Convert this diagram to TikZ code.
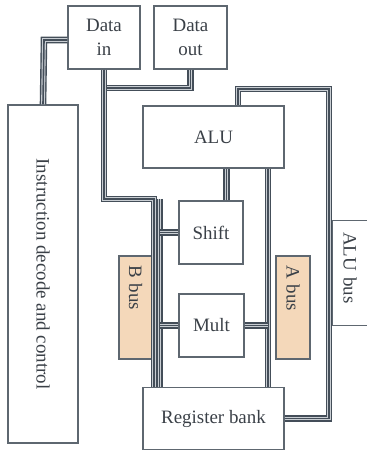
\documentclass[tikz,border=0pt]{standalone}
\usepackage{fontspec}
\setmainfont{Liberation Serif}
\usetikzlibrary{calc}
\definecolor{busdark}{HTML}{444E59}
\definecolor{buslight}{HTML}{C9CED3}
\definecolor{boxline}{HTML}{5E6770}
\definecolor{txt}{HTML}{3A4047}
\definecolor{peach}{HTML}{F4D8BA}
\tikzset{
    unit/.style={
        draw=boxline,
        line width=1.1bp,
        align=center,
        text=txt,
        inner sep=0pt,
        font=\fontsize{19}{24}\selectfont
    },
    bus/.style={
        draw=busdark,
        line width=6.6bp,
        line join=miter,
        postaction={draw=buslight, line width=3.8bp},
        postaction={draw=busdark, line width=1.6bp}
    }
}

\begin{document}
\begin{tikzpicture}[
    x=1bp,y=-1bp,
    sidebox/.style={unit, fill=peach, rotate=-90, align=left, inner xsep=9bp, text width=85bp}
]
\useasboundingbox (0,0) rectangle (366,451);

% units
\node[unit, minimum width=72bp, minimum height=63bp] (datain) at (104,37.5) {Data\\in};
\node[unit, minimum width=73bp, minimum height=63bp] (dataout) at (190.5,37.5) {Data\\out};
\node[unit, minimum width=141bp, minimum height=62bp] (alu) at (213.5,137) {ALU};
\node[unit, minimum width=64bp, minimum height=63bp] (shift) at (211,232.5) {Shift};
\node[unit, minimum width=65bp, minimum height=63bp] (mult) at (211.5,325.5) {Mult};
\node[unit, minimum width=141bp, minimum height=62bp] (regbank) at (213.5,418.5) {Register bank};
\node[unit, rotate=-90, minimum width=338bp, minimum height=70bp] (control) at (43,274) {Instruction decode and control};

% bus labels
\node[sidebox, minimum width=103bp, minimum height=33bp] (bbus) at (135.5,307.5) {B bus};
\node[sidebox, minimum width=103bp, minimum height=34bp] (abus) at (293,307.5) {A bus};
\node[sidebox, fill=none, draw=none, inner xsep=11bp, text width=82bp, minimum height=34bp] (alubus) at (350,273) {ALU bus};
\draw[boxline, line width=1.1bp] (alubus.north west) -- (alubus.south west) -- (alubus.south east) -- (alubus.north east);

% turning points
\coordinate (ctrlturn) at (44,40);
\coordinate (dinturn) at (104,88);
\coordinate (bturn) at (154,199);
\coordinate (bturn2) at (159.5,199);
\coordinate (ainx) at (268,199);
\coordinate (loop) at (329,89);

% buses
\draw[bus] (control.west) -- (ctrlturn) -- (ctrlturn -| datain.west);
\draw[bus] (dataout.south) |- (dinturn);
\draw[bus] (datain.south) |- (bturn) -- (bturn |- regbank.north);
\draw[bus] (bturn2) -- (bturn2 |- regbank.north);
\draw[bus] (shift.west) -- (shift.west -| bturn2);
\draw[bus] (mult.west) -- (mult.west -| bturn2);
\draw[bus] ([xshift=15.5bp]shift.north) -- ([xshift=15.5bp]shift.north |- alu.south);
\draw[bus] (ainx |- alu.south) -- (ainx |- regbank.north);
\draw[bus] (mult.east) -- (mult.east -| ainx);
\draw[bus] (regbank.east) -| (loop) -| ([xshift=24.5bp]alu.north);

\end{tikzpicture}
\end{document}
